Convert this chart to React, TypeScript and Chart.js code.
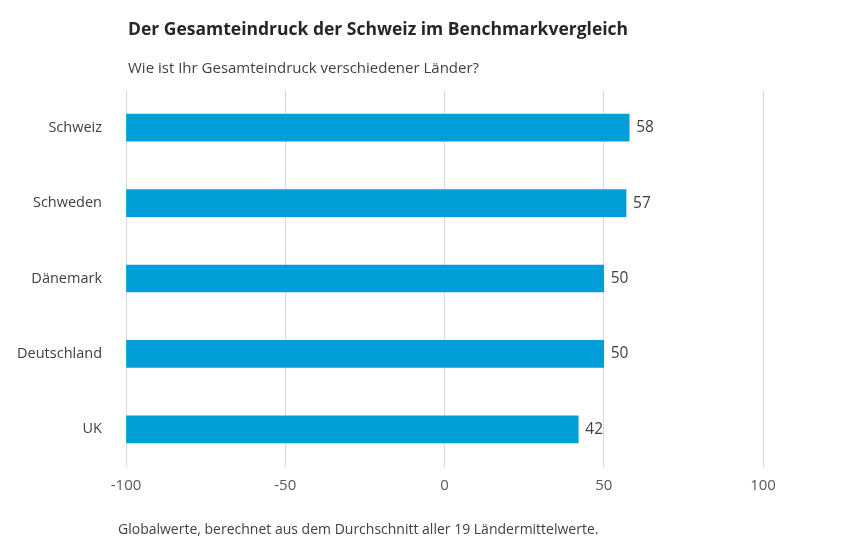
import React, { useEffect, useRef } from "react";
import { Chart, registerables } from "chart.js";
Chart.register(...registerables);

const categories = ["Schweiz", "Schweden", "Dänemark", "Deutschland", "UK"];
const values = [58, 57, 50, 50, 42];
const titleText = "Der Gesamteindruck der Schweiz im Benchmarkvergleich";
const subtitleText = "Wie ist Ihr Gesamteindruck verschiedener Länder?";
const footText = "Globalwerte, berechnet aus dem Durchschnitt aller 19 Ländermittelwerte.";
const FONT = "'Open Sans', sans-serif";

export default function App() {
  const ref = useRef<HTMLCanvasElement>(null);
  useEffect(() => {
    const textPlugin = {
      id: "texts",
      afterDraw(chart: any) {
        const ctx = chart.ctx;
        ctx.save();
        ctx.fillStyle = "#262626";
        ctx.textBaseline = "middle";
        ctx.font = `bold 17.5px ${FONT}`;
        ctx.fillText(titleText, 128, 30);
        ctx.font = `15px ${FONT}`;
        ctx.fillStyle = "#404040";
        ctx.fillText(subtitleText, 128, 69);
        ctx.font = `14px ${FONT}`;
        ctx.fillText(footText, 118, 530);
        const meta = chart.getDatasetMeta(0);
        ctx.font = `15.5px ${FONT}`;
        ctx.fillStyle = "#404040";
        meta.data.forEach((bar: any, i: number) => {
          ctx.fillText(String(values[i]), bar.x + 7, bar.y);
        });
        ctx.restore();
      },
    };
    const chart = new Chart(ref.current!, {
      type: "bar",
      data: {
        labels: categories,
        datasets: [{ data: values, base: -100, backgroundColor: "#009fd9", barThickness: 27 }],
      },
      options: {
        indexAxis: "y",
        animation: false,
        responsive: false,
        layout: { padding: { left: 0, right: 84, top: 90, bottom: 44 } },
        plugins: { legend: { display: false }, tooltip: { enabled: false } },
        scales: {
          x: {
            min: -100,
            max: 100,
            ticks: { stepSize: 50, color: "#595959", font: { family: FONT, size: 15 }, padding: 10 },
            grid: { color: "#d9d9d9", drawTicks: false },
            border: { display: false },
            afterFit: (s: any) => { s.height = 40; },
          },
          y: {
            ticks: { color: "#404040", font: { family: FONT, size: 14.5 }, padding: 16 },
            grid: { display: false },
            border: { display: false },
            afterFit: (s: any) => { s.width = 126; },
          },
        },
      },
      plugins: [textPlugin],
    } as any);
    return () => chart.destroy();
  }, []);
  return (
    <div style={{ margin: -8, width: 847, height: 551, background: "#fff" }}>
      <canvas ref={ref} width={847} height={551} style={{ display: "block" }} />
    </div>
  );
}
